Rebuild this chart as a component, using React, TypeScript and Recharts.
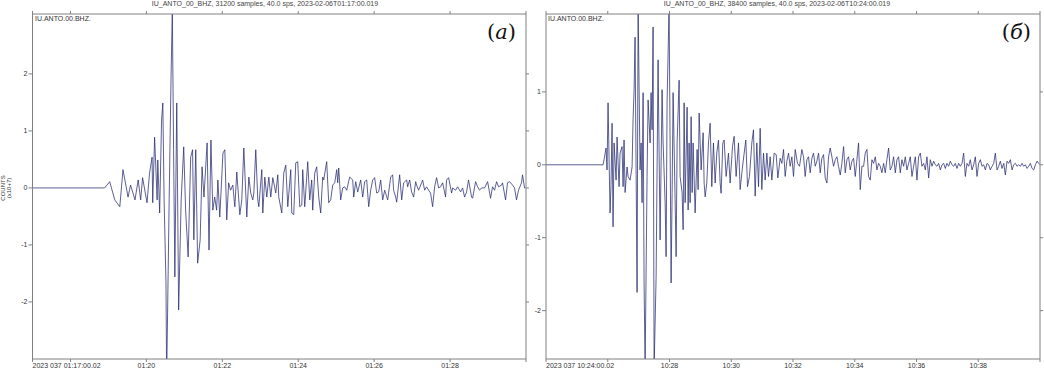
import React from 'react';
import { LineChart, Line, XAxis, YAxis } from 'recharts';

// ---- Panel (a): IU.ANTO.00.BHZ, start 2023-02-06T01:17:00.019, seconds from start, counts x1e7
const leftTime = [
  0, 114, 122, 130, 138, 143, 151, 155, 162, 167, 171, 174, 181, 185, 189, 190, 193, 197, 198, 201,
  204, 206, 208, 211, 212, 216, 219, 221, 223, 225, 228, 231, 235, 239, 242, 246, 250, 253, 255, 258,
  261, 265, 268, 271, 276, 279, 282, 285, 288, 291, 293, 296, 301, 304, 307, 310, 313,
  316.6, 319.8, 322.9, 327.7, 330.8, 334.0, 338.7, 341.9, 345.0, 348.2, 349.8, 352.9, 356.1, 357.7,
  362.4, 364.0, 367.2, 370.3, 373.5, 376.6, 379.8, 384.5, 387.7, 389.2, 394.0, 397.1, 400.3, 403.5,
  408.2, 409.8, 412.9, 416.1, 419.2, 422.4, 425.6, 427.1, 430.3, 435.0, 438.2, 441.3, 442.9, 446.1,
  449.2, 452.4, 455.5, 458.7, 460.3, 465.0, 468.2, 471.3, 474.5, 477.7, 480.8, 482.4, 484.0, 487.1,
  490.3, 493.4, 496.6, 501.3, 506.1, 507.7, 510.8, 514.0, 518.7, 521.9, 525.0, 528.2, 531.4, 534.5,
  537.7, 540.8, 544.0, 547.1, 550.3, 553.5, 556.6, 561.4, 566.1, 569.2, 570.8, 574.0, 575.6, 580.3,
  583.5, 586.6, 591.4, 592.9, 596.1, 599.2, 602.4, 605.6, 607.1, 610.3, 615.0, 616.6, 619.8, 622.9,
  626.1, 629.2, 632.4, 635.6, 638.7, 641.9, 645.0, 648.2, 652.9, 654.5, 657.7, 662.4, 664.0, 668.7,
  671.9, 676.6, 679.8, 682.9, 686.1, 689.2, 694.0, 695.6, 700.3, 703.5, 706.6, 709.8, 714.5, 719.3,
  724.0, 727.1, 730.3, 733.5, 736.6, 741.4, 742.9, 747.7, 750.8, 754.0, 758.7, 761.9, 765.0, 768.2,
  772.9, 774.5, 777.7, 779.2,
];
const leftCounts = [
  0, 0, 0.11, -0.21, -0.33, 0.32, -0.16, 0.05, -0.21, 0.14, -0.21, 0.18, -0.26, 0.26, 0.54, -0.26, 0.89, -0.21, 0.49, -0.44,
  1.19, 1.49, -0.21, -1.67, -3.4, -0.21, 1.95, 3.1, 0.67, -1.56, 1.49, -2.14, -0.21, 0.72, -0.39, -1.21, 0.54, 0.67, -0.91, 0.67,
  -1.32, -0.91, 0.37, -0.16, 0.79, -1.09, 0.84, -0.39, -0.16, -0.39, 0.14, -0.51, 0.61, 0.67, -0.56, 0.09, -0.04,
  0.05, -0.33, 0.28, -0.47, -0.21, 0.70, -0.51, 0.19, -0.09, -0.21, -0.09, 0.67, -0.21, -0.33,
  0.32, -0.44, 0.19, -0.16, 0.19, -0.16, 0.18, -0.09, 0.23, -0.16, -0.44, 0.26, 0.40, -0.33,
  0.32, -0.44, -0.47, 0.44, 0.46, -0.33, -0.30, 0.32, -0.33, 0.46, -0.21, 0.14, -0.39, 0.26,
  0.37, -0.16, -0.44, 0.19, 0.14, 0.46, -0.26, -0.21, 0.05, 0.09, 0.32, 0.09, 0.35, -0.21,
  0, 0.02, -0.04, 0.19, 0.14, -0.16, 0.11, -0.07, 0.14, -0.16, 0.11, 0.14, -0.33, -0.04,
  0.14, 0.18, -0.09, -0.07, 0.14, -0.21, -0.04, -0.21, 0.19, 0.23, -0.04, -0.16, -0.25, 0.23,
  -0.21, 0.09, 0.14, 0.02, 0.14, -0.07, -0.16, 0.11, 0.05, -0.04, 0.09, 0.14, -0.04, 0.02,
  -0.04, -0.09, -0.33, 0.02, 0.18, 0, 0.02, 0.09, -0.16, 0.14, 0.18, -0.09, 0, -0.04,
  0.02, -0.07, 0, -0.16, -0.07, 0.14, -0.16, -0.18, 0.11, 0.02, -0.04, 0, 0, 0.11,
  -0.18, 0.02, -0.04, 0.11, 0.02, 0.05, 0.09, -0.21, 0.09, 0.11, 0.05, 0, -0.21, -0.04,
  0.09, 0.23, 0, 0,
];
const leftTicks = [0, 60, 180, 300, 420, 540, 660, 780];
const leftTickLabels = ['2023 037 01:17:00.02', '', '01:20', '01:22', '01:24', '01:26', '01:28', ''];
const leftYTicks = [-2, -1, 0, 1, 2];

// ---- Panel (б): IU.ANTO.00.BHZ, start 2023-02-06T10:24:00.019
const rightTime = [
  0, 110.9, 112.8, 116.7, 118.6, 120.6, 124.5, 126.4, 128.4, 130.3, 132.3, 136.2, 138.1, 142.0, 143.9,
  147.8, 149.8, 151.7, 153.7, 157.5, 159.5, 163.4, 167.3, 169.2, 171.2, 173.1, 175.1, 177.0, 179.0,
  182.8, 184.8, 186.7, 188.7, 190.6, 192.6, 196.4, 198.4, 202.3, 204.2, 206.2, 208.1, 210.1, 214.0,
  215.9, 217.8, 221.7, 225.6, 227.6, 231.5, 233.4, 235.3, 239.2, 243.1, 245.1, 247.0, 250.9, 252.9,
  254.8, 258.7, 260.6, 264.5, 266.5, 268.4, 270.4, 274.2, 276.2, 278.1, 280.1, 282.0, 284.0, 285.9,
  289.8, 293.7, 295.6, 297.6, 301.5, 305.4, 307.3, 309.3,
  312.5, 315.7, 319.0, 322.2, 325.4, 328.7, 331.9, 335.2, 338.4, 340.3, 343.6, 346.2, 350.1, 354.6,
  357.8, 362.4, 365.6, 369.5, 374.1, 377.3, 381.2, 385.1, 388.3, 391.6, 395.4, 400.0, 403.2, 406.5,
  409.7, 413.0, 416.2, 419.4, 422.7, 425.9, 429.2, 432.4, 435.6, 438.9, 443.4, 447.3, 450.6, 455.1,
  458.3, 461.6, 464.8, 468.1, 471.3, 474.5, 477.8, 481.0, 484.3, 488.8, 492.7, 497.2, 500.5, 503.7,
  507.0, 510.2, 513.4, 516.7, 519.9, 523.2, 526.4, 529.6, 532.9, 536.1, 539.4, 542.6, 545.9, 549.1,
  552.3, 555.6, 558.8, 562.1, 565.3, 568.5, 571.8, 575.0, 578.3, 581.5, 584.8, 588.0, 591.2, 594.5,
  597.7, 601.0, 604.2, 607.4, 610.7, 613.9, 617.2, 620.4, 623.7, 626.9, 630.1, 633.4, 636.6, 639.9,
  643.1, 646.3, 649.6, 652.8, 656.1, 659.3, 662.5, 665.8, 669.0, 672.3, 675.5, 678.8, 682.0, 685.2,
  688.5, 691.7, 695.0, 698.2, 701.4, 704.7, 707.9, 711.2, 714.4, 717.7, 720.9, 724.1, 727.4, 730.6,
  733.9, 737.1, 740.3, 743.6, 746.8, 750.1, 753.3, 756.6, 759.8, 763.0, 766.3, 769.5, 772.8, 776.0,
  779.2, 782.5, 785.7, 789.0, 792.2, 795.4, 798.7, 801.9, 805.2, 808.4, 811.7, 814.9, 818.1, 821.4,
  824.6, 827.9, 831.1, 834.3, 837.6, 840.8, 844.1, 847.3, 850.6, 853.8, 857.0, 860.3, 863.5, 866.8,
  870.0, 873.2, 876.5, 879.7, 883.0, 886.2, 889.5, 892.7, 895.9, 899.2, 902.4, 905.7, 908.9, 912.1,
  915.4, 918.6, 921.9, 925.1, 928.3, 931.6, 934.8, 938.1, 941.3, 944.6, 947.8, 951.0, 954.3, 957.5,
  960,
];
const rightCounts = [
  0, 0, 0.07, 0.23, -0.07, 0.85, -0.66, -0.27, 0.57, -0.85, 0.30, -0.21, 0.38, -0.30, 0.16,
  0.25, -0.30, 0.34, -0.38, -0.03, -0.16, -0.21, -0.03, 0.62, 1.03, 1.75, -0.07, -1.75, 2.2,
  -0.07, 0.30, -0.52, 0.99, -1.62, -2.8, -0.16, 0.89, 0.30, 0.99, 0.48, 1.89, -2.8, -1.53,
  -0.03, 1.44, -1.03, 1.03, 0.30, -0.52, -1.26, 0.85, 2.2, -1.62, -0.38, 0.99, -0.48, -1.26,
  0.30, 1.16, -0.16, -0.38, -0.89, 0.85, -0.52, 0.79, -0.62, 0.30, -0.52, 0.66, -0.38, 0.30,
  -0.66, 0.21, -0.34, 0.71, -0.07, 0.44, -0.25, -0.44,
  -0.25, 0.30, 0.57, -0.30, 0.30, -0.25, 0.16, 0.34, -0.25, -0.39, 0.30, 0.34, -0.16, 0.16,
  -0.25, 0.25, 0.39, -0.16, 0.30, -0.34, -0.07, 0.16, 0.34, -0.30, -0.16, 0.30, 0.48, -0.43,
  0.30, -0.30, 0.50, -0.34, 0.16, -0.21, 0.16, -0.16, 0.11, -0.21, 0.16, 0.14, -0.18, 0.09,
  0.02, 0.21, -0.16, 0.05, 0.16, -0.02, 0.11, -0.16, 0.21, 0.02, -0.02, 0.21, 0.11, -0.16,
  0.07, 0.11, -0.11, 0.09, 0.16, -0.02, 0.05, 0.16, -0.11, 0.09, 0.14, -0.18, -0.25, 0.11,
  0.23, 0.11, -0.02, 0.07, 0.11, -0.02, -0.14, 0.02, 0.25, -0.11, 0.07, 0.11, -0.07, 0.05,
  0.09, -0.16, 0.07, 0.30, -0.34, -0.02, -0.02, 0.16, 0.21, -0.16, -0.21, 0.07, 0.02, 0.11,
  -0.07, 0.02, -0.02, -0.11, 0.02, -0.11, 0.07, 0.23, -0.07, -0.02, 0.11, -0.11, 0.07, 0.11,
  -0.11, 0.07, -0.02, 0.11, -0.07, 0.02, 0.11, -0.16, -0.02, 0.11, -0.21, 0.11, 0.16, -0.02,
  0.02, -0.07, 0.11, -0.18, 0.07, -0.02, 0.05, 0, -0.02, 0.02, -0.07, 0, 0.02, -0.05,
  0.02, -0.02, 0.05, 0, -0.02, 0.02, -0.05, 0.02, -0.02, 0.02, 0.16, -0.16, 0.02, -0.02,
  0.07, -0.07, 0, 0.11, -0.16, 0.02, 0.07, -0.02, 0, -0.07, 0.02, 0, -0.07, -0.02,
  0.02, 0.16, -0.07, -0.02, 0.05, -0.05, 0.02, -0.14, 0.05, 0.02, 0.07, -0.07, 0, 0.02,
  -0.02, 0, -0.02, 0.02, -0.02, 0, -0.05, -0.02, 0.02, -0.05, -0.07, 0, 0.05, 0.02,
  0,
];
const rightTicks = [0, 120, 240, 360, 480, 600, 720, 840, 960];
const rightTickLabels = ['2023 037 10:24:00.02', '', '10:28', '10:30', '10:32', '10:34', '10:36', '10:38', ''];
const rightYTicks = [-2, -1, 0, 1];

const leftRows = leftTime.map((t, i) => ({ t, v: leftCounts[i] }));
const rightRows = rightTime.map((t, i) => ({ t, v: rightCounts[i] }));

const AXIS = '#808080';
const TRACE = '#262b70';
const SMALL_FONT = 'Liberation Sans, Arial, sans-serif';

const makeXTick = (ticks: number[], labels: string[]) => (props: any) => {
  const { x, payload } = props;
  const i = ticks.indexOf(payload.value);
  const label = i >= 0 ? labels[i] : '';
  if (!label) return <g />;
  return (
    <text x={x} y={368} textAnchor={i === 0 ? 'start' : 'middle'} fontSize={7} fill="#333" fontFamily={SMALL_FONT}>
      {label}
    </text>
  );
};

const noTick = () => <g />;

type PanelProps = {
  rows: { t: number; v: number }[];
  width: number;
  left: number;
  yAxisWidth: number;
  rightWidth: number;
  xDomain: [number, number];
  yDomain: [number, number];
  xTicks: number[];
  xLabels: string[];
  yTicks: number[];
};

function Panel(p: PanelProps) {
  return (
    <div style={{ position: 'absolute', left: p.left, top: 0 }}>
      <LineChart width={p.width} height={369} data={p.rows} margin={{ top: 0, right: 0, bottom: 0, left: 0 }}>
        <XAxis
          xAxisId="b"
          dataKey="t"
          type="number"
          domain={p.xDomain}
          ticks={p.xTicks}
          allowDataOverflow
          height={10}
          stroke={AXIS}
          tickSize={3}
          tick={makeXTick(p.xTicks, p.xLabels)}
          interval={0}
        />
        <XAxis
          xAxisId="t"
          orientation="top"
          dataKey="t"
          type="number"
          domain={p.xDomain}
          ticks={p.xTicks}
          allowDataOverflow
          height={14}
          stroke={AXIS}
          tickSize={3}
          tick={noTick}
          interval={0}
        />
        <YAxis
          yAxisId="l"
          type="number"
          domain={p.yDomain}
          ticks={p.yTicks}
          allowDataOverflow
          width={p.yAxisWidth}
          stroke={AXIS}
          tickSize={4}
          tickMargin={1}
          interval={0}
          tick={{ fontSize: 7, fill: '#333', fontFamily: SMALL_FONT }}
        />
        <YAxis
          yAxisId="r"
          orientation="right"
          type="number"
          domain={p.yDomain}
          ticks={p.yTicks}
          allowDataOverflow
          width={p.rightWidth}
          stroke={AXIS}
          tickSize={3}
          tick={noTick}
          interval={0}
        />
        <Line
          xAxisId="t"
          yAxisId="r"
          dataKey="v"
          stroke="none"
          dot={false}
          isAnimationActive={false}
        />
        <Line
          xAxisId="b"
          yAxisId="l"
          dataKey="v"
          type="linear"
          stroke={TRACE}
          strokeWidth={0.75}
          dot={false}
          isAnimationActive={false}
        />
      </LineChart>
    </div>
  );
}

export default function App() {
  return (
    <div style={{ position: 'absolute', left: 0, top: 0, width: 1044, height: 369, background: '#fff', overflow: 'hidden' }}>
      <Panel
        rows={leftRows}
        width={530}
        left={0}
        yAxisWidth={32.5}
        rightWidth={4}
        xDomain={[0, 780]}
        yDomain={[-3.0, 3.05]}
        xTicks={leftTicks}
        xLabels={leftTickLabels}
        yTicks={leftYTicks}
      />
      <Panel
        rows={rightRows}
        width={514}
        left={530}
        yAxisWidth={16}
        rightWidth={4}
        xDomain={[0, 960]}
        yDomain={[-2.663, 2.068]}
        xTicks={rightTicks}
        xLabels={rightTickLabels}
        yTicks={rightYTicks}
      />
      <svg width={1044} height={369} style={{ position: 'absolute', left: 0, top: 0, pointerEvents: 'none' }}>
        <text x={265} y={5.5} textAnchor="middle" fontSize={7} fill="#444" fontFamily={SMALL_FONT}>
          IU_ANTO_00_BHZ, 31200 samples, 40.0 sps, 2023-02-06T01:17:00.019
        </text>
        <text x={777} y={5.5} textAnchor="middle" fontSize={7} fill="#444" fontFamily={SMALL_FONT}>
          IU_ANTO_00_BHZ, 38400 samples, 40.0 sps, 2023-02-06T10:24:00.019
        </text>
        <text x={35} y={21} fontSize={7} fill="#333" fontFamily={SMALL_FONT}>IU.ANTO.00.BHZ.</text>
        <text x={548} y={21} fontSize={7} fill="#333" fontFamily={SMALL_FONT}>IU.ANTO.00.BHZ.</text>
        <text x={516} y={39} textAnchor="end" fontSize={21} fill="#111" fontFamily="DejaVu Serif, serif">
          (<tspan fontStyle="italic">a</tspan>)
        </text>
        <text x={1031} y={39} textAnchor="end" fontSize={21} fill="#111" fontFamily="DejaVu Serif, serif">
          (<tspan fontStyle="italic">б</tspan>)
        </text>
        <text transform="translate(5,188) rotate(-90)" textAnchor="middle" fontSize={6} fill="#333" fontFamily={SMALL_FONT}>
          COUNTS
        </text>
        <text transform="translate(11,188) rotate(-90)" textAnchor="middle" fontSize={6} fill="#333" fontFamily={SMALL_FONT}>
          (x10+7)
        </text>
      </svg>
    </div>
  );
}
